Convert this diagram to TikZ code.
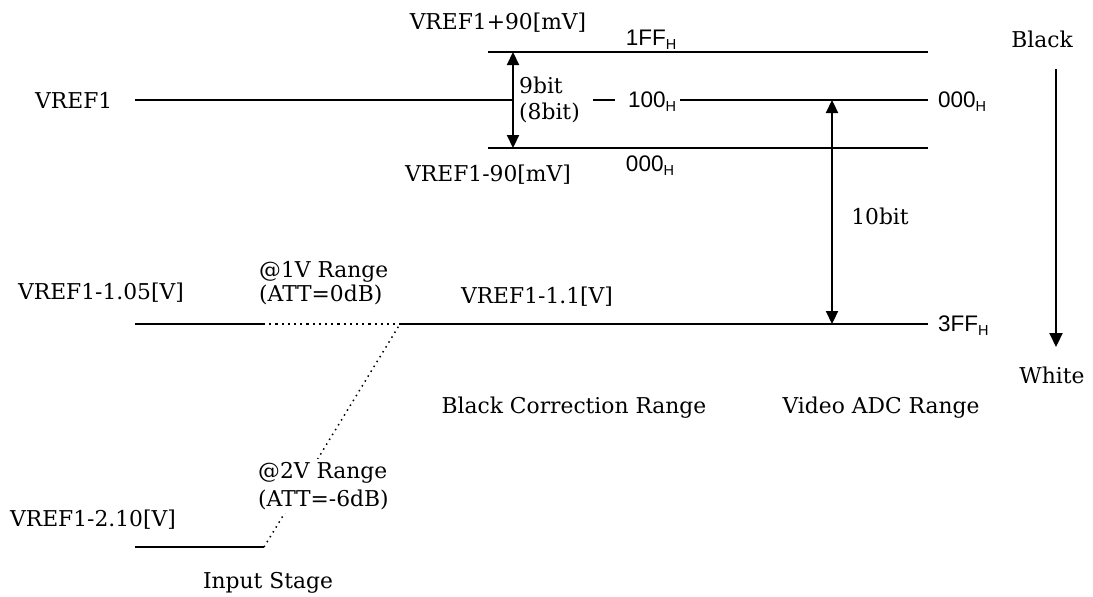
\documentclass[tikz,border=0pt]{standalone}
\usepackage{fontspec}
\setmainfont{DejaVu Serif}
\newfontfamily\hexfont{Liberation Sans}
\usetikzlibrary{arrows.meta}
\newcommand\hx[1]{{\hexfont\fontsize{22.5}{26}\selectfont #1\raisebox{-0.35ex}{\fontsize{14.5}{15}\selectfont H}}}
\tikzset{
  lbl/.style={inner sep=0pt, font=\fontsize{21.8}{26}\selectfont},
  hexl/.style={inner sep=0pt},
  main/.style={line width=2.7pt},
  thinl/.style={line width=1.5pt},
  dotl/.style={line width=2.2pt, dash pattern=on 2.2pt off 4pt},
  dotd/.style={line width=1.5pt, dash pattern=on 1.5pt off 4.2pt},
  dbl/.style={line width=2.2pt, {Triangle[length=13pt,width=12pt]}-{Triangle[length=13pt,width=12pt]}},
  sgl/.style={line width=2.2pt, -{Triangle[length=14pt,width=13pt]}}
}
\begin{document}
\begin{tikzpicture}[x=1pt,y=-1pt]
\useasboundingbox (0,0) rectangle (1093,597);
% coordinates
\coordinate (v1l) at (135,100);
\coordinate (v1m) at (513,100);
\coordinate (d1) at (593,100);
\coordinate (d2) at (615,100);
\coordinate (v1r1) at (680,100);
\coordinate (v1r2) at (928,100);
\coordinate (tl) at (488,52);
\coordinate (tr) at (928,52);
\coordinate (bl) at (488,148);
\coordinate (br) at (928,148);
\coordinate (a9t) at (513,52);
\coordinate (a9b) at (513,148);
\coordinate (a10t) at (832,100);
\coordinate (a10b) at (832,324);
\coordinate (wl) at (400,324);
\coordinate (wr) at (928,324);
\coordinate (i1l) at (135,324);
\coordinate (i1r) at (263,324);
\coordinate (i2l) at (135,547);
\coordinate (i2r) at (264,547);
\coordinate (bwt) at (1056,69);
\coordinate (bwb) at (1056,347);
% thin lines
\draw[thinl] (tl) -- (tr);
\draw[thinl] (bl) -- (br);
% VREF1 line
\draw[main] (v1l) -- (v1m);
\draw[main] (d1) -- (d2);
\draw[main] (v1r1) -- (v1r2);
% arrows
\draw[dbl] (a9t) -- (a9b);
\draw[dbl] (a10t) -- (a10b);
\draw[sgl] (bwt) -- (bwb);
% white level lines
\draw[main] (wl) -- (wr);
\draw[main] (i1l) -- (i1r);
\draw[dotl] (i1r) -- (wl);
\draw[main] (i2l) -- (i2r);
\draw[dotd] (i2r) -- (wl);
% labels
\node[lbl, anchor=west] (vref1) at (35,100) {VREF1};
\node[lbl] (vp90) at (498,23) {VREF1+90[mV]};
\node[lbl] (vm90) at (488,175) {VREF1-90[mV]};
\node[hexl] (h1ff) at (651,40) {\hx{1FF}};
\node[hexl] (h100) at (652,102) {\hx{100}};
\node[hexl] (h000b) at (650,166) {\hx{000}};
\node[hexl, anchor=west] (h000) at (938,102) {\hx{000}};
\node[hexl, anchor=west] (h3ff) at (938,326) {\hx{3FF}};
\node[lbl, anchor=west] (b9) at (519,85) {9bit};
\node[lbl, anchor=west] (b8) at (519,113) {(8bit)};
\node[lbl] (b10) at (880,216) {10bit};
\node[lbl] (black) at (1042,39) {Black};
\node[lbl] (white) at (1052,375) {White};
\node[lbl] (vadc) at (881,408) {Video ADC Range};
\node[lbl] (bcr) at (574,408) {Black Correction Range};
\node[lbl] (v11) at (537,297) {VREF1-1.1[V]};
\node[lbl] (v105) at (101,293) {VREF1-1.05[V]};
\node[lbl, anchor=west] (r1a) at (259,272) {@1V Range};
\node[lbl, anchor=west] (r1b) at (259,295) {(ATT=0dB)};
\node[lbl, anchor=west, fill=white, align=left, inner sep=3pt, font=\fontsize{21.8}{28}\selectfont] (r2) at (255,486) {@2V Range\\(ATT=-6dB)};
\node[lbl] (v210) at (93,520) {VREF1-2.10[V]};
\node[lbl] (inst) at (268,583) {Input Stage};
\end{tikzpicture}
\end{document}
